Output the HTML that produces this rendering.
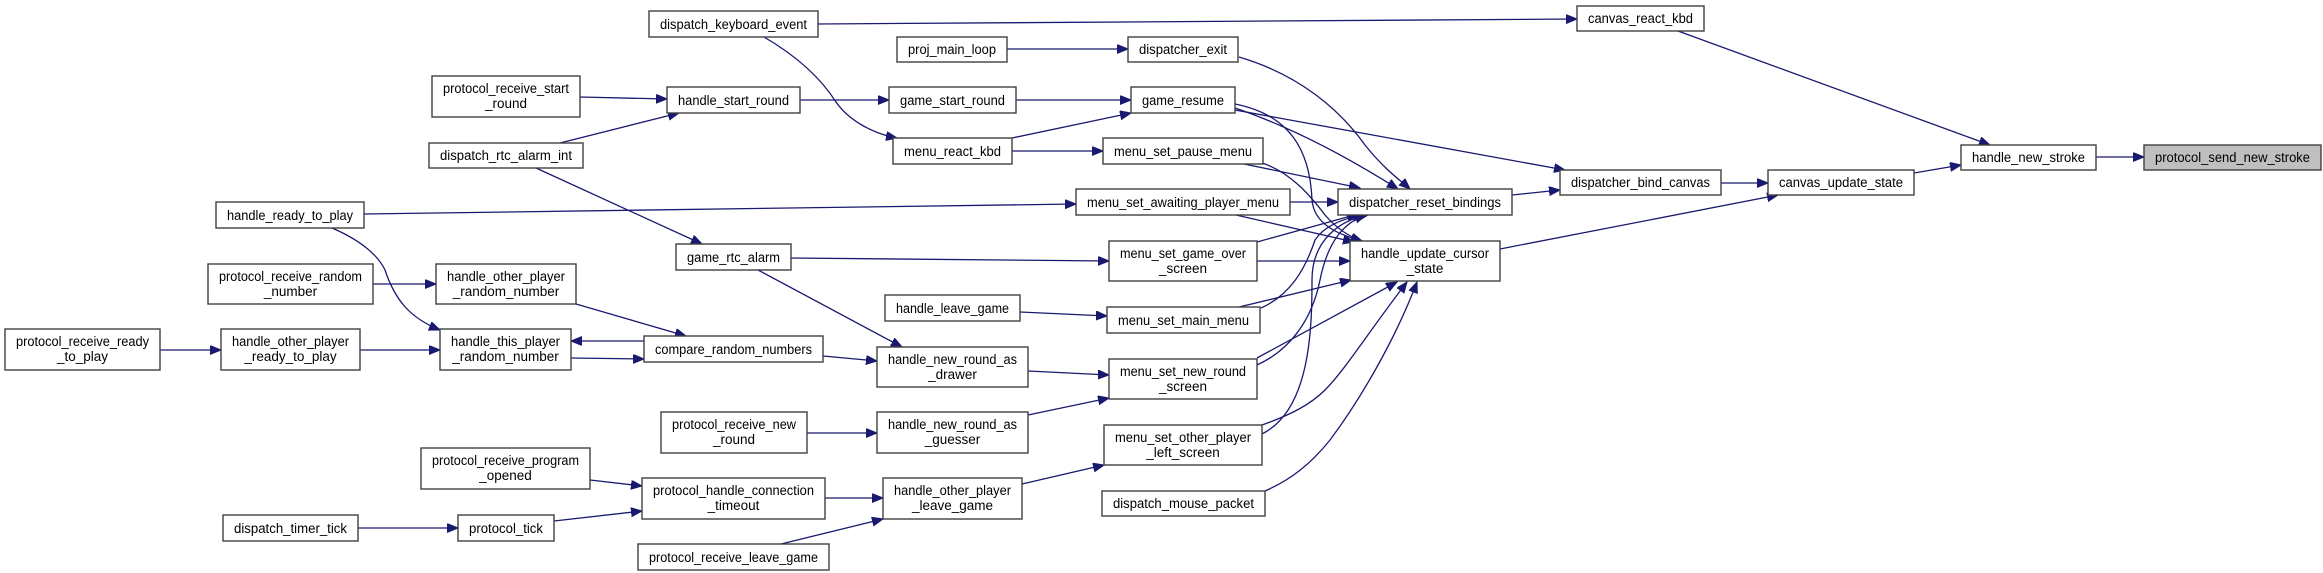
<!DOCTYPE html>
<html><head><meta charset="utf-8"><style>
html,body{margin:0;padding:0;background:#fff;}
svg{display:block;}
text{font-family:"Liberation Sans",Arial,sans-serif;font-size:13.5px;fill:#000;text-anchor:middle;}
.b{fill:#fff;stroke:#404040;stroke-width:1.4;}
.e{fill:none;stroke:#191970;stroke-width:1.3;marker-end:url(#ah);}
</style></head><body>
<svg width="2323" height="573" viewBox="0 0 2323 573" xmlns="http://www.w3.org/2000/svg">
<defs><marker id="ah" markerUnits="userSpaceOnUse" markerWidth="12" markerHeight="10" refX="11" refY="4.5" orient="auto"><path d="M0,0 L11,4.5 L0,9 z" fill="#191970" stroke="#191970"/></marker></defs>

<!-- edges -->
<path class="e" d="M818,24 L1577,19"/>
<path class="e" d="M764,37 C800,58 822,80 836,102 C850,122 875,134 897,138"/>
<path class="e" d="M1678,31 L1990,145"/>
<path class="e" d="M1007,49 L1128,49"/>
<path class="e" d="M1239,57 C1300,75 1340,110 1365,145 C1385,170 1400,180 1410,189"/>
<path class="e" d="M580,97 L667,99"/>
<path class="e" d="M560,143 L679,113"/>
<path class="e" d="M536,168 L702,244"/>
<path class="e" d="M800,100 L889,100"/>
<path class="e" d="M1016,100 L1131,100"/>
<path class="e" d="M1012,138 L1131,113"/>
<path class="e" d="M1012,151 L1103,151"/>
<path class="e" d="M1235,110 L1565,170"/>
<path class="e" d="M1235,108 C1300,130 1360,165 1398,189"/>
<path class="e" d="M1235,104 C1290,115 1310,150 1312,200 C1314,225 1340,235 1362,241"/>
<path class="e" d="M1244,164 L1360,188"/>
<path class="e" d="M1262,163 C1290,172 1310,195 1325,215 C1338,230 1350,237 1362,241"/>
<path class="e" d="M364,214 L1076,204"/>
<path class="e" d="M332,228 C360,240 378,255 385,270 C395,300 410,318 440,330"/>
<path class="e" d="M1290,202 L1338,202"/>
<path class="e" d="M1236,215 L1354,242"/>
<path class="e" d="M1512,195 L1560,190"/>
<path class="e" d="M1721,183 L1768,183"/>
<path class="e" d="M1914,173 L1961,165"/>
<path class="e" d="M2096,157 L2144,157"/>
<path class="e" d="M1500,249 L1778,195"/>
<path class="e" d="M791,258 L1109,261"/>
<path class="e" d="M758,270 L902,347"/>
<path class="e" d="M1257,242 L1358,214"/>
<path class="e" d="M1257,261 L1350,261"/>
<path class="e" d="M373,284 L436,284"/>
<path class="e" d="M576,304 L686,336"/>
<path class="e" d="M644,341 L571,341"/>
<path class="e" d="M571,358 L644,359"/>
<path class="e" d="M160,350 L221,350"/>
<path class="e" d="M360,350 L440,350"/>
<path class="e" d="M823,356 L877,361"/>
<path class="e" d="M1020,312 L1107,316"/>
<path class="e" d="M1239,307 L1351,280"/>
<path class="e" d="M1261,308 C1290,295 1305,270 1315,240 C1325,225 1345,218 1364,215"/>
<path class="e" d="M1028,371 L1109,375"/>
<path class="e" d="M807,433 L877,433"/>
<path class="e" d="M1028,415 L1109,398"/>
<path class="e" d="M1257,358 L1397,282"/>
<path class="e" d="M1257,365 C1290,350 1312,320 1320,280 C1328,240 1345,222 1366,215"/>
<path class="e" d="M1262,425 C1290,415 1310,405 1325,390 C1345,370 1370,330 1407,282"/>
<path class="e" d="M1262,434 C1310,410 1312,330 1312,280 C1312,240 1340,220 1368,215"/>
<path class="e" d="M1022,484 L1104,465"/>
<path class="e" d="M1265,491 C1290,480 1310,465 1330,440 C1360,400 1395,340 1417,282"/>
<path class="e" d="M590,480 L642,486"/>
<path class="e" d="M554,521 L642,511"/>
<path class="e" d="M358,528 L458,528"/>
<path class="e" d="M825,498 L883,498"/>
<path class="e" d="M781,544 L883,519"/>

<!-- nodes -->
<rect class="b" x="649" y="11" width="169" height="26"/><text x="733.5" y="29" textLength="147" lengthAdjust="spacingAndGlyphs">dispatch_keyboard_event</text>
<rect class="b" x="432" y="76" width="148" height="41"/><text x="506" y="93" textLength="126" lengthAdjust="spacingAndGlyphs">protocol_receive_start</text><text x="506" y="108">_round</text>
<rect class="b" x="667" y="87" width="133" height="26"/><text x="733.5" y="105" textLength="111" lengthAdjust="spacingAndGlyphs">handle_start_round</text>
<rect class="b" x="429" y="143" width="154" height="25"/><text x="506" y="160" textLength="132" lengthAdjust="spacingAndGlyphs">dispatch_rtc_alarm_int</text>
<rect class="b" x="216" y="202" width="148" height="26"/><text x="290" y="220" textLength="126" lengthAdjust="spacingAndGlyphs">handle_ready_to_play</text>
<rect class="b" x="208" y="264" width="165" height="40"/><text x="290.5" y="281" textLength="143" lengthAdjust="spacingAndGlyphs">protocol_receive_random</text><text x="290.5" y="296">_number</text>
<rect class="b" x="436" y="264" width="140" height="40"/><text x="506" y="281" textLength="118" lengthAdjust="spacingAndGlyphs">handle_other_player</text><text x="506" y="296">_random_number</text>
<rect class="b" x="676" y="244" width="115" height="26"/><text x="733.5" y="262" textLength="93" lengthAdjust="spacingAndGlyphs">game_rtc_alarm</text>
<rect class="b" x="5" y="329" width="155" height="41"/><text x="82.5" y="346" textLength="133" lengthAdjust="spacingAndGlyphs">protocol_receive_ready</text><text x="82.5" y="361">_to_play</text>
<rect class="b" x="221" y="329" width="139" height="41"/><text x="290.5" y="346" textLength="117" lengthAdjust="spacingAndGlyphs">handle_other_player</text><text x="290.5" y="361">_ready_to_play</text>
<rect class="b" x="440" y="329" width="131" height="41"/><text x="505.5" y="346" textLength="109" lengthAdjust="spacingAndGlyphs">handle_this_player</text><text x="505.5" y="361">_random_number</text>
<rect class="b" x="644" y="336" width="179" height="26"/><text x="733.5" y="354" textLength="157" lengthAdjust="spacingAndGlyphs">compare_random_numbers</text>
<rect class="b" x="661" y="412" width="146" height="41"/><text x="734" y="429" textLength="124" lengthAdjust="spacingAndGlyphs">protocol_receive_new</text><text x="734" y="444">_round</text>
<rect class="b" x="421" y="448" width="169" height="41"/><text x="505.5" y="465" textLength="147" lengthAdjust="spacingAndGlyphs">protocol_receive_program</text><text x="505.5" y="480">_opened</text>
<rect class="b" x="642" y="478" width="183" height="41"/><text x="733.5" y="495" textLength="161" lengthAdjust="spacingAndGlyphs">protocol_handle_connection</text><text x="733.5" y="510">_timeout</text>
<rect class="b" x="223" y="515" width="135" height="26"/><text x="290.5" y="533" textLength="113" lengthAdjust="spacingAndGlyphs">dispatch_timer_tick</text>
<rect class="b" x="458" y="515" width="96" height="26"/><text x="506" y="533" textLength="74" lengthAdjust="spacingAndGlyphs">protocol_tick</text>
<rect class="b" x="638" y="544" width="191" height="26"/><text x="733.5" y="562" textLength="169" lengthAdjust="spacingAndGlyphs">protocol_receive_leave_game</text>
<rect class="b" x="1577" y="6" width="127" height="25"/><text x="1640.5" y="23" textLength="105" lengthAdjust="spacingAndGlyphs">canvas_react_kbd</text>
<rect class="b" x="897" y="37" width="110" height="25"/><text x="952" y="54" textLength="88" lengthAdjust="spacingAndGlyphs">proj_main_loop</text>
<rect class="b" x="1128" y="37" width="110" height="25"/><text x="1183" y="54" textLength="88" lengthAdjust="spacingAndGlyphs">dispatcher_exit</text>
<rect class="b" x="889" y="87" width="127" height="26"/><text x="952.5" y="105" textLength="105" lengthAdjust="spacingAndGlyphs">game_start_round</text>
<rect class="b" x="1131" y="87" width="104" height="26"/><text x="1183" y="105" textLength="82" lengthAdjust="spacingAndGlyphs">game_resume</text>
<rect class="b" x="893" y="138" width="119" height="26"/><text x="952.5" y="156" textLength="97" lengthAdjust="spacingAndGlyphs">menu_react_kbd</text>
<rect class="b" x="1103" y="138" width="160" height="26"/><text x="1183" y="156" textLength="138" lengthAdjust="spacingAndGlyphs">menu_set_pause_menu</text>
<rect class="b" x="1076" y="189" width="214" height="26"/><text x="1183" y="207" textLength="192" lengthAdjust="spacingAndGlyphs">menu_set_awaiting_player_menu</text>
<rect class="b" x="1338" y="189" width="174" height="26"/><text x="1425" y="207" textLength="152" lengthAdjust="spacingAndGlyphs">dispatcher_reset_bindings</text>
<rect class="b" x="1560" y="170" width="161" height="25"/><text x="1640.5" y="187" textLength="139" lengthAdjust="spacingAndGlyphs">dispatcher_bind_canvas</text>
<rect class="b" x="1109" y="241" width="148" height="40"/><text x="1183" y="258" textLength="126" lengthAdjust="spacingAndGlyphs">menu_set_game_over</text><text x="1183" y="273">_screen</text>
<rect class="b" x="1350" y="241" width="150" height="40"/><text x="1425" y="258" textLength="128" lengthAdjust="spacingAndGlyphs">handle_update_cursor</text><text x="1425" y="273">_state</text>
<rect class="b" x="885" y="295" width="135" height="26"/><text x="952.5" y="313" textLength="113" lengthAdjust="spacingAndGlyphs">handle_leave_game</text>
<rect class="b" x="1107" y="307" width="153" height="26"/><text x="1183.5" y="325" textLength="131" lengthAdjust="spacingAndGlyphs">menu_set_main_menu</text>
<rect class="b" x="877" y="347" width="151" height="40"/><text x="952.5" y="364" textLength="129" lengthAdjust="spacingAndGlyphs">handle_new_round_as</text><text x="952.5" y="379">_drawer</text>
<rect class="b" x="1109" y="359" width="148" height="40"/><text x="1183" y="376" textLength="126" lengthAdjust="spacingAndGlyphs">menu_set_new_round</text><text x="1183" y="391">_screen</text>
<rect class="b" x="877" y="412" width="151" height="41"/><text x="952.5" y="429" textLength="129" lengthAdjust="spacingAndGlyphs">handle_new_round_as</text><text x="952.5" y="444">_guesser</text>
<rect class="b" x="1104" y="425" width="158" height="40"/><text x="1183" y="442" textLength="136" lengthAdjust="spacingAndGlyphs">menu_set_other_player</text><text x="1183" y="457">_left_screen</text>
<rect class="b" x="883" y="478" width="139" height="41"/><text x="952.5" y="495" textLength="117" lengthAdjust="spacingAndGlyphs">handle_other_player</text><text x="952.5" y="510">_leave_game</text>
<rect class="b" x="1102" y="491" width="163" height="25"/><text x="1183.5" y="508" textLength="141" lengthAdjust="spacingAndGlyphs">dispatch_mouse_packet</text>
<rect class="b" x="1768" y="170" width="146" height="25"/><text x="1841" y="187" textLength="124" lengthAdjust="spacingAndGlyphs">canvas_update_state</text>
<rect class="b" x="1961" y="145" width="135" height="25"/><text x="2028.5" y="162" textLength="113" lengthAdjust="spacingAndGlyphs">handle_new_stroke</text>
<rect class="b" x="2144" y="145" width="177" height="25" style="fill:#bfbfbf"/><text x="2232.5" y="162" textLength="155" lengthAdjust="spacingAndGlyphs">protocol_send_new_stroke</text>
</svg>
</body></html>
